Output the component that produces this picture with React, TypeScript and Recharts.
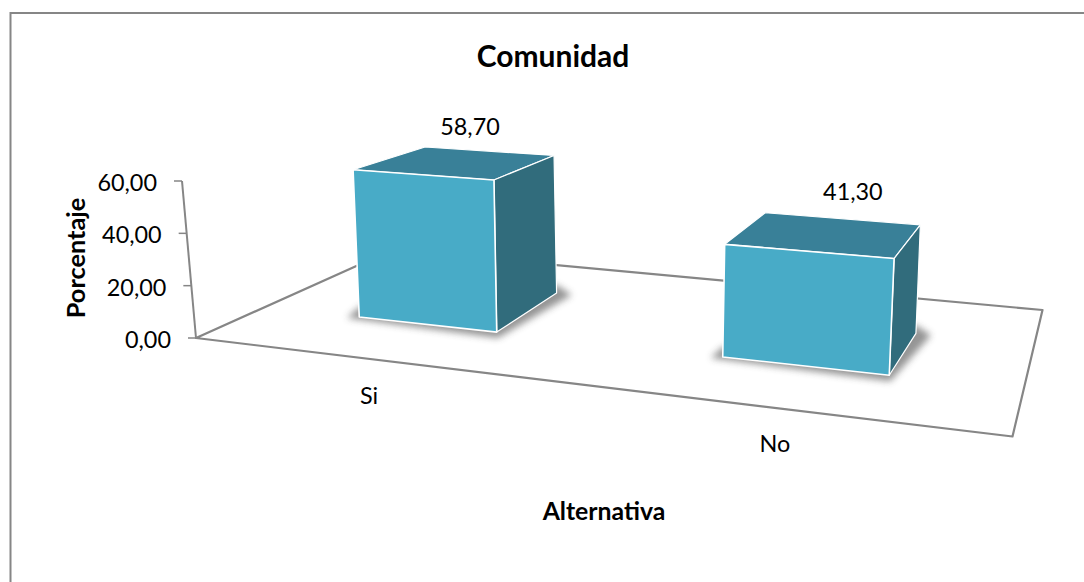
import { BarChart, Bar, XAxis, YAxis, LabelList } from 'recharts';

const categories = ['Si', 'No'];
const values = [58.7, 41.3];
const valueLabels = ['58,70', '41,30'];
const yTicks = [0, 20, 40, 60];

const chartData = categories.map((name, i) => ({ name, value: values[i], label: valueLabels[i] }));

const FONT = 'Lato, Carlito, Calibri, sans-serif';
const LINE = '#868686';
const FRONT = '#48abc7';
const TOP = '#398098';
const SIDE = '#316c7c';

type Pt = [number, number];

// fake perspective: takes the flat bar rect from recharts and projects it to the skewed box
function projectBox(x: number, y: number, width: number, height: number) {
  const c = x + width / 2;
  const p = 1 + (c - 617) * 0.000505;
  const corner = (bx: number) => {
    const base = y + height + (bx - 196) * 0.11 - 39;
    const h = height * (1 + (bx - 540) * 0.00023);
    const lean = height * (bx - 610) * 0.00016;
    const bottom: Pt = [bx, base];
    const top: Pt = [bx + lean, base - h];
    return { bottom, top, h };
  };
  const left = corner(c - (width / 2) * p);
  const right = corner(c + (width / 2) * p);
  const depth = (pt: Pt, h: number): Pt => {
    const dx = 72 - (pt[0] - 353) * 0.0845;
    const dy = -(39 + (pt[0] - 497) * 0.0075) + h * (0.0945 - (pt[0] - 497) * 0.00006);
    return [pt[0] + dx, pt[1] + dy];
  };
  return {
    bl: left.bottom,
    br: right.bottom,
    tl: left.top,
    tr: right.top,
    btl: depth(left.top, left.h),
    btr: depth(right.top, right.h),
    bbr: depth(right.bottom, 0),
  };
}

const pts = (list: Pt[]) => list.map((p) => p.join(',')).join(' ');

function Box3D(props: any) {
  const { x, y, width, height } = props;
  const b = projectBox(x, y, width, height);
  const shadow: Pt[] = [
    [b.bl[0] - 12, b.bl[1] + 1],
    [b.br[0] + 1, b.br[1] + 6],
    [b.bbr[0] + 15, b.bbr[1] + 2],
    [b.bbr[0], b.bbr[1] - 8],
    [b.bl[0], b.bl[1] - 10],
  ];
  return (
    <g>
      <polygon points={pts(shadow)} fill="#3c3c3c" opacity={0.55} filter="url(#boxShadow)" />
      <polygon points={pts([b.tl, b.tr, b.btr, b.btl])} fill={TOP} stroke="#ffffff" strokeWidth={1.2} strokeLinejoin="round" />
      <polygon points={pts([b.tr, b.btr, b.bbr, b.br])} fill={SIDE} stroke="#ffffff" strokeWidth={1.2} strokeLinejoin="round" />
      <polygon points={pts([b.tl, b.tr, b.br, b.bl])} fill={FRONT} stroke="#ffffff" strokeWidth={1.6} strokeLinejoin="round" />
    </g>
  );
}

function BoxLabel(props: any) {
  const { x, y, width, height, value } = props;
  const b = projectBox(x, y, width, height);
  const c = x + width / 2;
  const backY = (b.btl[1] + b.btr[1]) / 2;
  return (
    <text x={c + 42 + (c - 428) * 0.013} y={backY - 25 - (c - 428) * 0.008} textAnchor="middle" dominantBaseline="central" fontFamily={FONT} fontSize={23.4} fill="#000">
      {value}
    </text>
  );
}

function YTick(props: any) {
  const { y, payload } = props;
  const axisX = 196 - ((338 - y) * 14) / 157;
  return (
    <g>
      <line x1={axisX - 8} y1={y} x2={axisX} y2={y} stroke={LINE} strokeWidth={1.5} />
      <text x={axisX - 25} y={y + 1} textAnchor="end" dominantBaseline="central" fontFamily={FONT} fontSize={23.4} fill="#000">
        {payload.value.toFixed(2).replace('.', ',')}
      </text>
    </g>
  );
}

function XTick(props: any) {
  const { x, payload } = props;
  const tx = x - 59 + (x - 428) * 0.074;
  const ty = 338 + (tx - 196) * 0.12 + 36;
  return (
    <text x={tx} y={ty} textAnchor="middle" dominantBaseline="central" fontFamily={FONT} fontSize={23.4} fill="#000">
      {payload.value}
    </text>
  );
}

export default function App() {
  return (
    <div style={{ position: 'absolute', left: 0, top: 0, width: 1084, height: 582, background: '#fff' }}>
      <BarChart
        width={1084}
        height={582}
        data={chartData}
        barSize={152}
        margin={{ top: 181, right: 89, bottom: 214, left: 179 }}
      >
        <defs>
          <filter id="boxShadow" x="-20%" y="-50%" width="140%" height="200%">
            <feGaussianBlur stdDeviation="3.5" />
          </filter>
        </defs>
        {/* chart frame, only top and left show in the crop */}
        <polyline points="1084,13 10.5,13 10.5,582" fill="none" stroke={LINE} strokeWidth={2} />
        {/* floor */}
        <polygon points="196,338 1012.5,436.5 1042.5,310 392,250" fill="none" stroke={LINE} strokeWidth={2.2} strokeLinejoin="round" />
        <line x1={182} y1={181} x2={196} y2={338} stroke={LINE} strokeWidth={2} />
        <text x={553} y={55} textAnchor="middle" dominantBaseline="central" fontFamily={FONT} fontWeight={700} fontSize={30} fill="#000">
          Comunidad
        </text>
        <text x={604} y={510} textAnchor="middle" dominantBaseline="central" fontFamily={FONT} fontWeight={700} fontSize={24.8} fill="#000">
          Alternativa
        </text>
        <text
          x={75}
          y={258}
          transform="rotate(-90 75 258)"
          textAnchor="middle"
          dominantBaseline="central"
          fontFamily={FONT}
          fontWeight={700}
          fontSize={25.3}
          fill="#000"
        >
          Porcentaje
        </text>
        <XAxis dataKey="name" axisLine={false} tickLine={false} tick={<XTick />} height={30} />
        <YAxis domain={[0, 60]} ticks={yTicks} axisLine={false} tickLine={false} tick={<YTick />} width={60} interval={0} />
        <Bar dataKey="value" shape={<Box3D />} isAnimationActive={false}>
          <LabelList dataKey="label" content={<BoxLabel />} />
        </Bar>
      </BarChart>
    </div>
  );
}
